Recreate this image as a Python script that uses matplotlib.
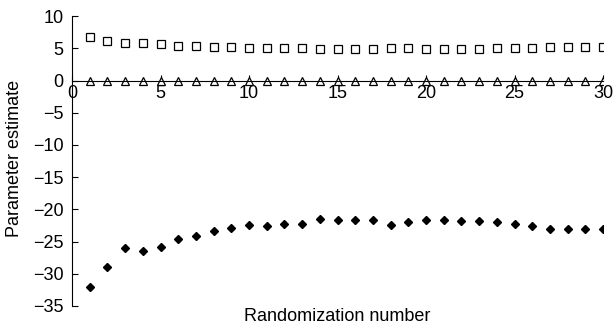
import numpy as np
import matplotlib
matplotlib.use('Agg')
import matplotlib.pyplot as plt

plt.rcParams['font.family'] = ['Liberation Sans', 'DejaVu Sans']

# randomization number and parameter estimates
run = np.arange(1, 31)
squares = [6.8, 6.1, 5.8, 5.8, 5.7, 5.4, 5.4, 5.2, 5.2, 5.05,
           5.05, 5.05, 5.05, 4.9, 4.95, 4.95, 4.95, 5.05, 5.05, 4.9,
           4.95, 4.95, 4.9, 5.05, 5.05, 5.05, 5.2, 5.2, 5.2, 5.2]
triangles = [0.0] * 30
diamonds = [-32.1, -28.9, -26.0, -26.5, -25.8, -24.6, -24.1, -23.4, -22.9, -22.4,
            -22.6, -22.2, -22.2, -21.5, -21.7, -21.7, -21.7, -22.4, -22.0, -21.6,
            -21.6, -21.8, -21.8, -22.0, -22.2, -22.6, -23.0, -23.0, -23.0, -23.0]

fig = plt.figure(figsize=(6.16, 3.29), dpi=100)
ax = fig.add_axes([0.117, 0.070, 0.862, 0.881])

ax.plot(run, squares, 's', ms=5.5, mfc='white', mec='black', mew=0.9, ls='none')
ax.plot(run, triangles, '^', ms=5.5, mfc='white', mec='black', mew=0.9, ls='none')
ax.plot(run, diamonds, 'D', ms=4.3, color='black', ls='none')

ax.set_xlim(0, 30)
ax.set_ylim(-35, 10)
ax.set_xticks(range(0, 31, 5))
ax.set_yticks(range(-35, 11, 5))

ax.spines['top'].set_visible(False)
ax.spines['right'].set_visible(False)
ax.spines['bottom'].set_position(('data', 0))
ax.tick_params(direction='in', length=4, labelsize=13, width=0.8)
ax.tick_params(axis='x', pad=3)
ax.tick_params(axis='y', pad=6)

fig.text(0.023, 0.517, 'Parameter estimate', fontsize=13, rotation=90,
         ha='center', va='center')
fig.text(0.548, 0.038, 'Randomization number', fontsize=13,
         ha='center', va='center')

fig.savefig('out.png', dpi=100)
